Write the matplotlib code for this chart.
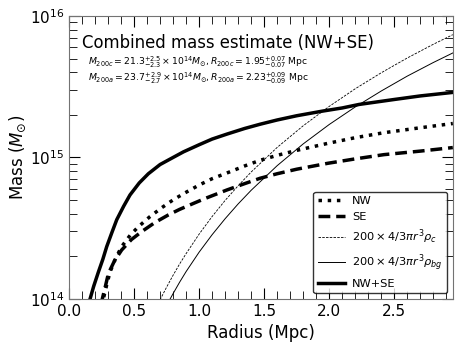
import numpy as np
import matplotlib
matplotlib.use('Agg')
import matplotlib.pyplot as plt

# mass profiles, radius in Mpc, mass in units of 1e14 Msun
r_nw = [0.25, 0.264, 0.29, 0.315, 0.36, 0.405, 0.47, 0.533, 0.62, 0.713, 0.80, 0.892, 1.0, 1.1, 1.213,
        1.35, 1.469, 1.6, 1.75, 1.99, 2.2, 2.42, 2.7, 2.95]
m_nw = [0.891, 1.000, 1.259, 1.549, 1.950, 2.344, 2.818, 3.236, 3.802, 4.416, 5.012, 5.623, 6.383, 7.079, 7.762,
        8.710, 9.550, 10.35, 11.22, 12.59, 13.80, 14.96, 16.22, 17.38]

r_se = [0.245, 0.256, 0.28, 0.303, 0.35, 0.405, 0.48, 0.559, 0.66, 0.764, 0.85, 0.956, 1.046, 1.213,
        1.35, 1.469, 1.6, 1.75, 1.99, 2.2, 2.42, 2.7, 2.95]
m_se = [0.912, 1.000, 1.230, 1.514, 1.862, 2.218, 2.630, 2.992, 3.467, 3.926, 4.295, 4.732, 5.129, 5.888,
        6.531, 7.129, 7.674, 8.260, 9.099, 9.772, 10.47, 11.09, 11.75]

r_tot = [0.14, 0.162, 0.19, 0.226, 0.26, 0.29, 0.33, 0.367, 0.42, 0.469, 0.54, 0.61, 0.70, 0.79, 0.88, 1.0,
         1.1, 1.213, 1.35, 1.469, 1.6, 1.75, 1.95, 2.1, 2.23, 2.5, 2.7, 2.95]
m_tot = [0.871, 1.000, 1.230, 1.549, 1.905, 2.344, 2.951, 3.631, 4.519, 5.433, 6.607, 7.674, 8.913, 9.886, 10.96, 12.30,
         13.49, 14.62, 16.03, 17.18, 18.41, 19.72, 21.28, 22.39, 23.71, 25.70, 27.23, 28.84]

r_rho = [0.7, 0.75, 0.8, 0.85, 0.9, 1.0, 1.1, 1.2, 1.3, 1.4, 1.6, 1.8, 2.0, 2.2, 2.4, 2.6, 2.8, 2.95]
m_rhoc = [0.986, 1.21, 1.47, 1.765, 2.09, 2.87, 3.823, 4.97, 6.311, 7.89, 11.78, 16.75, 22.96, 30.6, 39.7, 50.5, 63.1, 73.8]
m_rhobg = [0.733, 0.90, 1.09, 1.312, 1.56, 2.14, 2.844, 3.69, 4.694, 5.86, 8.75, 12.47, 17.10, 22.75, 29.5, 37.6, 46.9, 54.8]

scale = 1e14

fig = plt.figure(figsize=(4.63, 3.48), dpi=100)
ax = fig.add_axes([0.149, 0.141, 0.829, 0.813])

ax.plot(r_nw, np.array(m_nw) * scale, ':', color='k', lw=2.5, label='NW')
ax.plot(r_se, np.array(m_se) * scale, '--', color='k', lw=2.5, dashes=(3.4, 1.7), label='SE')
ax.plot(r_rho, np.array(m_rhoc) * scale, '--', color='k', lw=0.6, dashes=(3, 1.5), label=r'$200\times4/3\pi r^3\rho_c$')
ax.plot(r_rho, np.array(m_rhobg) * scale, '-', color='k', lw=0.7, label=r'$200\times4/3\pi r^3\rho_{bg}$')
ax.plot(r_tot, np.array(m_tot) * scale, '-', color='k', lw=2.5, label='NW+SE')

ax.set_yscale('log')
ax.set_xlim(0, 2.95)
ax.set_ylim(1e14, 1e16)
ax.set_xticks([0.0, 0.5, 1.0, 1.5, 2.0, 2.5])
ax.set_xticks(np.arange(0, 2.95, 0.1), minor=True)
ax.tick_params(which='both', direction='in', top=True, right=True, labelsize=11)
ax.tick_params(which='major', length=8)
ax.tick_params(which='minor', length=6)
for s in ax.spines.values():
    s.set_color('0.45')

ax.set_xlabel('Radius (Mpc)', fontsize=12)
ax.set_ylabel(r'Mass ($M_{\odot}$)', fontsize=12, labelpad=1)

ax.text(0.035, 0.903, 'Combined mass estimate (NW+SE)', transform=ax.transAxes, fontsize=11.9, va='center')
ax.text(0.05, 0.835, r'$M_{200c}=21.3^{+2.5}_{-2.3}\times10^{14}M_{\odot}, R_{200c}=1.95^{+0.07}_{-0.07}$ Mpc',
        transform=ax.transAxes, fontsize=6.7, va='center')
ax.text(0.05, 0.778, r'$M_{200a}=23.7^{+2.9}_{-2.7}\times10^{14}M_{\odot}, R_{200a}=2.23^{+0.09}_{-0.09}$ Mpc',
        transform=ax.transAxes, fontsize=6.7, va='center')

ax.legend(loc='lower right', fontsize=8.2, handlelength=2.4, handletextpad=0.6, edgecolor='k', fancybox=True)

fig.savefig('out.png', dpi=100)
